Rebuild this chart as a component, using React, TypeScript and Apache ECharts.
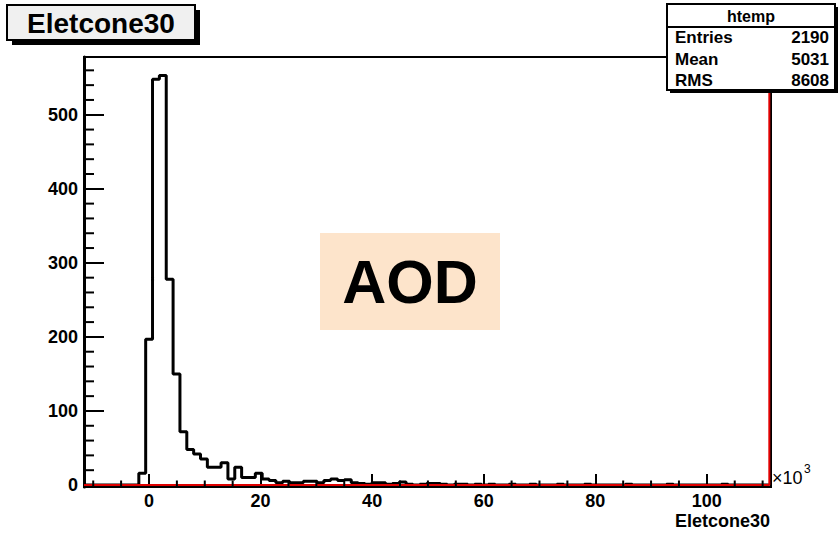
import React, { useEffect, useRef } from 'react';
import * as echarts from 'echarts';

// axis ranges (x in units of 10^3)
const X_MIN = -11.65;
const X_MAX = 111.5;
const HIST_LO = -11.65;
const HIST_HI = 111.2;
const Y_MIN = -2.7;
const Y_MAX = 578;

// 100 bins of "Eletcone30"
const counts: number[] = [
  0, 0, 0, 0, 0, 0, 0, 0, 16, 197,
  548, 553, 278, 150, 72, 48, 42, 35, 24, 24,
  30, 8, 24, 10, 10, 16, 8, 6, 3, 5,
  3, 3, 5, 5, 3, 6, 8, 6, 7, 3,
  2, 1, 3, 3, 1, 2, 4, 1, 0, 1,
  2, 2, 1, 0, 1, 1, 0, 1, 0, 1,
  0, 0, 1, 0, 0, 1, 0, 0, 0, 1,
  0, 0, 0, 1, 0, 0, 0, 0, 0, 1,
  0, 0, 0, 0, 0, 1, 0, 0, 0, 0,
  0, 0, 0, 1, 0, 0, 0, 0, 0, 0,
];

const xMinorTicks: number[] = [-10, -5, 5, 10, 15, 25, 30, 35, 45, 50, 55, 65, 70, 75, 85, 90, 95, 105, 110];
const yMinorTicks: number[] = [
  20, 40, 60, 80, 120, 140, 160, 180, 220, 240, 260, 280,
  320, 340, 360, 380, 420, 440, 460, 480, 520, 540, 560,
];

const statsTitle = 'htemp';
const statsLabels: string[] = ['Entries', 'Mean', 'RMS'];
const statsValues: string[] = ['2190', '5031', '8608'];
const histTitle = 'Eletcone30';
const xAxisTitle = 'Eletcone30';
const stampText = 'AOD';

const FONT = '"Liberation Sans", Arial, Helvetica, sans-serif';

export default function App() {
  const ref = useRef<HTMLDivElement>(null);

  useEffect(() => {
    if (!ref.current) return;
    const chart = echarts.init(ref.current, undefined, { renderer: 'svg' });

    const bw = (HIST_HI - HIST_LO) / counts.length;
    const steps: number[][] = [];
    counts.forEach((c, k) => {
      steps.push([HIST_LO + k * bw, c]);
      steps.push([HIST_LO + (k + 1) * bw, c]);
    });
    const redLine = [
      [HIST_LO, 0],
      [HIST_HI, 0],
      [HIST_HI, Y_MAX],
    ];

    const rows = statsLabels.map((lab, i) => [
      {
        type: 'text',
        left: 675,
        top: 38 + i * 21.5 - 9,
        z: 120,
        style: { text: lab, font: `bold 17px ${FONT}`, fill: '#000' },
      },
      {
        type: 'text',
        right: 838 - 829,
        top: 38 + i * 21.5 - 9,
        z: 120,
        style: { text: statsValues[i], font: `bold 17px ${FONT}`, fill: '#000' },
      },
    ]).flat();

    chart.setOption({
      animation: false,
      backgroundColor: '#ffffff',
      grid: {
        left: 84,
        top: 57,
        width: 687,
        height: 430,
        show: true,
        borderColor: '#000',
        borderWidth: 2,
        backgroundColor: 'transparent',
      },
      xAxis: {
        type: 'value',
        min: X_MIN,
        max: X_MAX,
        minInterval: 20,
        maxInterval: 20,
        splitLine: { show: false },
        axisLine: { show: false, onZero: false },
        axisTick: { show: true, inside: true, length: 13, lineStyle: { color: '#000', width: 2 } },
        axisLabel: {
          show: true,
          showMinLabel: false,
          showMaxLabel: false,
          margin: 5,
          color: '#000',
          fontFamily: FONT,
          fontWeight: 'bold',
          fontSize: 18,
        },
      },
      yAxis: {
        type: 'value',
        min: Y_MIN,
        max: Y_MAX,
        minInterval: 100,
        maxInterval: 100,
        splitLine: { show: false },
        axisLine: { show: true, onZero: false, lineStyle: { color: '#000', width: 3 } },
        axisTick: { show: true, inside: true, length: 20, lineStyle: { color: '#000', width: 2 } },
        axisLabel: {
          show: true,
          showMinLabel: false,
          showMaxLabel: false,
          margin: 6,
          color: '#000',
          fontFamily: FONT,
          fontWeight: 'bold',
          fontSize: 18,
        },
      },
      series: [
        {
          type: 'line',
          name: 'htemp',
          data: steps,
          showSymbol: false,
          symbol: 'none',
          lineStyle: { color: '#000', width: 3 },
          z: 3,
          silent: true,
        },
        {
          type: 'line',
          name: 'ref',
          data: redLine,
          showSymbol: false,
          symbol: 'none',
          lineStyle: { color: '#e00000', width: 2 },
          z: 4,
          silent: true,
        },
        {
          type: 'custom',
          name: 'xminor',
          data: xMinorTicks.map((v) => [v, Y_MIN]),
          silent: true,
          z: 5,
          renderItem: (_p: any, api: any) => {
            const p = api.coord([api.value(0), api.value(1)]);
            return {
              type: 'line',
              shape: { x1: p[0], y1: p[1], x2: p[0], y2: p[1] - 6.5 },
              style: { stroke: '#000', lineWidth: 2 },
            };
          },
        },
        {
          type: 'custom',
          name: 'yminor',
          data: yMinorTicks.map((v) => [X_MIN, v]),
          silent: true,
          z: 5,
          renderItem: (_p: any, api: any) => {
            const p = api.coord([api.value(0), api.value(1)]);
            return {
              type: 'line',
              shape: { x1: p[0], y1: p[1], x2: p[0] + 10, y2: p[1] },
              style: { stroke: '#000', lineWidth: 2 },
            };
          },
        },
      ],
      graphic: [
        // title box
        { type: 'rect', z: 100, shape: { x: 12, y: 10, width: 188, height: 35 }, style: { fill: '#000' } },
        {
          type: 'rect',
          z: 101,
          shape: { x: 7, y: 5, width: 188, height: 35 },
          style: { fill: '#f0f0f0', stroke: '#000', lineWidth: 2 },
        },
        {
          type: 'text',
          z: 102,
          x: 101,
          y: 23,
          style: {
            text: histTitle,
            font: `bold 28px ${FONT}`,
            fill: '#000',
            align: 'center',
            verticalAlign: 'middle',
          },
        },
        // stats box
        { type: 'rect', z: 100, shape: { x: 670, y: 7, width: 168, height: 86 }, style: { fill: '#000' } },
        {
          type: 'rect',
          z: 101,
          shape: { x: 667, y: 4, width: 168, height: 86 },
          style: { fill: '#fff', stroke: '#000', lineWidth: 2 },
        },
        {
          type: 'line',
          z: 102,
          shape: { x1: 667, y1: 27, x2: 835, y2: 27 },
          style: { stroke: '#000', lineWidth: 2 },
        },
        {
          type: 'text',
          z: 102,
          x: 751,
          y: 16,
          style: {
            text: statsTitle,
            font: `bold 16px ${FONT}`,
            fill: '#000',
            align: 'center',
            verticalAlign: 'middle',
          },
        },
        ...rows,
        // AOD stamp
        {
          type: 'rect',
          z: 100,
          shape: { x: 320, y: 233, width: 180, height: 97 },
          style: { fill: '#fde4cb' },
        },
        {
          type: 'text',
          z: 101,
          x: 410,
          y: 282,
          style: {
            text: stampText,
            font: `bold 61px ${FONT}`,
            fill: '#000',
            align: 'center',
            verticalAlign: 'middle',
          },
        },
        // exponent
        {
          type: 'text',
          z: 101,
          x: 772,
          y: 478,
          style: { text: '×10', font: `18px ${FONT}`, fill: '#000', align: 'left', verticalAlign: 'middle' },
        },
        {
          type: 'text',
          z: 101,
          x: 804,
          y: 469,
          style: { text: '3', font: `12px ${FONT}`, fill: '#000', align: 'left', verticalAlign: 'middle' },
        },
        // x axis title
        {
          type: 'text',
          z: 101,
          x: 770,
          y: 521,
          style: {
            text: xAxisTitle,
            font: `bold 18px ${FONT}`,
            fill: '#000',
            align: 'right',
            verticalAlign: 'middle',
          },
        },
      ],
    });

    return () => chart.dispose();
  }, []);

  return (
    <div
      ref={ref}
      style={{ position: 'fixed', left: 0, top: 0, width: 838, height: 533, background: '#fff' }}
    />
  );
}
